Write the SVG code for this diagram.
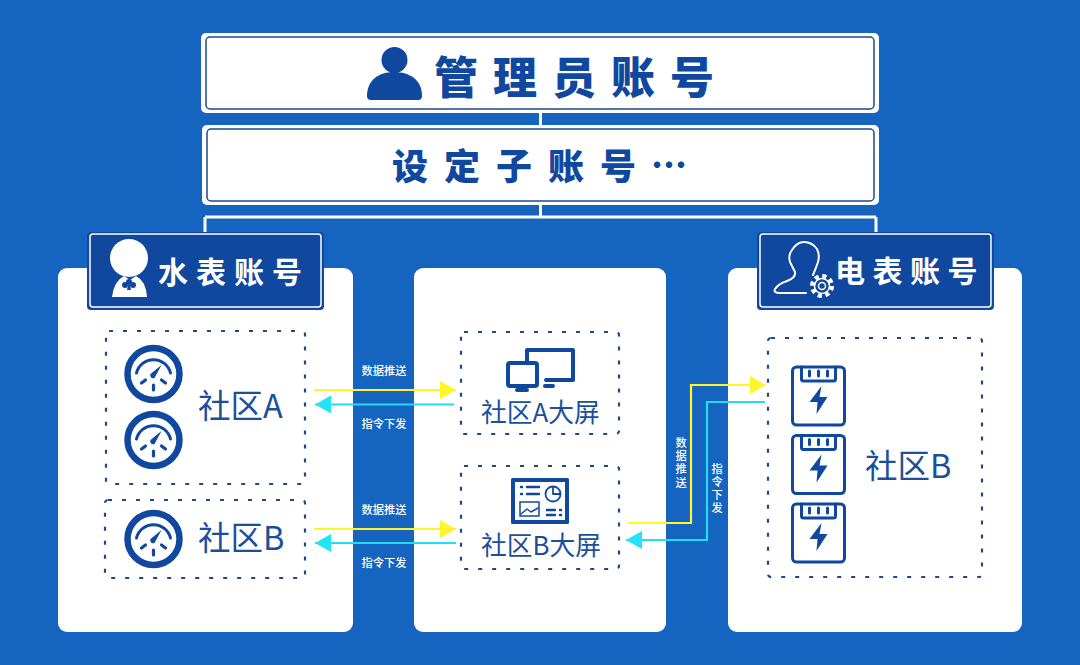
<svg xmlns="http://www.w3.org/2000/svg" xmlns:xlink="http://www.w3.org/1999/xlink" width="1080" height="665" viewBox="0 0 1080 665">
<style>
text{font-family:"Noto Sans CJK SC","Noto Sans",sans-serif}
.t1{font-size:44px;font-weight:900;fill:#1048a0;letter-spacing:15px}
.t2{font-size:36px;font-weight:900;fill:#1048a0;letter-spacing:16px}
.t3{font-size:30px;font-weight:700;fill:#fff;letter-spacing:8px}
.l{font-size:32.500px;fill:#1b4f9c}
.s{font-size:25.800px;fill:#1b4f9c}
.c{font-size:11.200px;font-weight:500;fill:#fff;text-anchor:middle}
.panel{fill:#fff}
.dash{fill:none;stroke:#1b4a8c;stroke-width:2.200;stroke-dasharray:4 10}
.ico{fill:#1048a0}
.icol{fill:none;stroke:#1048a0;stroke-linecap:round;stroke-linejoin:round}
.y{fill:none;stroke:#fff52a;stroke-width:2.200}
.b{fill:none;stroke:#25dcf7;stroke-width:2.200}
.wl{fill:none;stroke:#fff;stroke-width:3}
</style>
<defs>
<marker id="ya" markerUnits="userSpaceOnUse" markerWidth="18" markerHeight="20" refX="16" refY="9" orient="auto"><path d="M0 0L16 9L0 18Z" fill="#fff52a"/></marker>
<marker id="ba" markerUnits="userSpaceOnUse" markerWidth="18" markerHeight="20" refX="16" refY="9" orient="auto"><path d="M0 0L16 9L0 18Z" fill="#22e4f5"/></marker>
<g id="gauge">
<circle cx="0" cy="0" r="26" fill="none" stroke="#1048a0" stroke-width="6.500"/>
<path class="icol" stroke-width="3" d="M-17 -1A17.500 17.500 0 0 1 17 -1"/>
<path class="ico" d="M8 -9L1 4A3 3 0 0 1 -3 0Z"/>
<path class="icol" stroke-width="3.200" d="M-12 9L-8 6M12 9L8 6M0 16V11"/>
</g>
<g id="meter">
<rect x="-26" y="-29" width="52" height="58" rx="4" fill="#fff" stroke="#1048a0" stroke-width="3"/>
<path class="icol" stroke-width="3" d="M-17 -29V-17Q-17 -15 -15 -15H15Q17 -15 17 -17V-29"/>
<path class="icol" stroke-width="3" d="M-9 -25V-20M0 -25V-20M9 -25V-20"/>
<path class="ico" d="M3 -10L-9 6H-1L-2 18L9 1H1Z"/>
</g>
</defs>
<rect width="1080" height="665" fill="#1565c0"/>
<g id="connectors-tree">
<path class="wl" d="M540.500 112V125M540.500 204V217M205 217H876M205 217V234M876 217V234"/>
</g>
<g id="panels">
<rect class="panel" x="58" y="268" width="295" height="364" rx="9"/>
<rect class="panel" x="414" y="268" width="252" height="364" rx="9"/>
<rect class="panel" x="728" y="268" width="294" height="364" rx="9"/>
</g>
<g id="admin">
<rect x="201" y="33" width="678" height="80" rx="5" fill="#fff"/>
<rect x="206" y="37" width="668" height="72" rx="4" fill="#fff" stroke="#1b4a8c" stroke-width="1.500"/>
<circle cx="394.500" cy="60" r="13" class="ico"/>
<path class="ico" d="M367 96C367 80 379 72 394 72C410 72 422 80 422 96Q422 100 418 100H371Q367 100 367 96Z"/>
<text class="t1" x="434" y="94">管理员账号</text>
</g>
<g id="sub">
<rect x="202" y="125" width="677" height="80" rx="5" fill="#fff"/>
<rect x="207" y="129" width="667" height="72" rx="4" fill="#fff" stroke="#1b4a8c" stroke-width="1.500"/>
<text class="t2" x="392" y="180">设定子账号</text>
<text x="651" y="179" font-size="36" font-weight="900" fill="#1048a0" font-family="Noto Sans CJK SC,sans-serif">…</text>
</g>
<g id="water">
<rect x="87" y="232" width="237" height="78" rx="4" fill="#1048a0"/>
<rect x="90" y="234" width="231" height="73" rx="3" fill="#1048a0" stroke="#fff" stroke-width="1.500"/>
<circle cx="129" cy="258" r="19" fill="#fff"/>
<path fill="#fff" d="M112 297Q114 281 124 276L130 280L136 276Q146 281 147 297Z"/>
<circle cx="129" cy="282" r="3" class="ico"/><circle cx="125" cy="285" r="3" class="ico"/><circle cx="133" cy="285" r="3" class="ico"/><path class="ico" d="M128 285H130L131 290H127Z"/>
<text class="t3" x="158" y="283">水表账号</text>
</g>
<g id="power">
<rect x="757" y="232" width="237" height="78" rx="4" fill="#1048a0"/>
<rect x="760" y="234" width="231" height="73" rx="3" fill="#1048a0" stroke="#fff" stroke-width="1.500"/>
<path fill="none" stroke="#fff" stroke-width="2" stroke-linecap="round" stroke-linejoin="round" d="M806 293H780Q773 293 775 289Q778 284 787 281Q796 278 795 272Q792 266 790 262Q788 255 792 250Q797 242 804 242Q812 242 817 249Q820 255 818 262Q816 268 813 275"/>
<circle cx="822" cy="286" r="9.500" fill="none" stroke="#fff" stroke-width="5" stroke-dasharray="4 3.460"/>
<circle cx="822" cy="286" r="7.500" fill="none" stroke="#fff" stroke-width="1.500"/>
<circle cx="822" cy="286" r="3.500" fill="none" stroke="#fff" stroke-width="1.500"/>
<text class="t3" x="835" y="282" style="letter-spacing:7.500px">电表账号</text>
</g>
<g id="communityA">
<rect class="dash" x="106" y="331" width="199" height="153" rx="3"/>
<use xlink:href="#gauge" href="#gauge" x="153.500" y="374"/>
<use xlink:href="#gauge" href="#gauge" x="153.500" y="440"/>
<text class="l" x="198" y="418">社区A</text>
</g>
<g id="communityB">
<rect class="dash" x="105" y="500" width="200" height="78" rx="3"/>
<use xlink:href="#gauge" href="#gauge" x="153.500" y="539"/>
<text class="l" x="198" y="550">社区B</text>
</g>
<g id="screenA">
<rect class="dash" x="461" y="332" width="158" height="102" rx="3"/>
<path class="icol" stroke-width="4" d="M527 368V350H573V380H546"/>
<rect x="508" y="363" width="29" height="23" rx="2" fill="#fff" stroke="#1048a0" stroke-width="4"/>
<path class="icol" stroke-width="4" d="M517 390H527M545 386H553"/>
<text class="s" x="481" y="422">社区A大屏</text>
</g>
<g id="screenB">
<rect class="dash" x="461" y="466" width="158" height="103" rx="3"/>
<rect x="511" y="478" width="58" height="46" rx="1.500" class="ico"/>
<rect x="515" y="482" width="50" height="38" fill="#fff"/>
<path class="icol" stroke-width="2.500" d="M521 487H522M527 487H539M521 494H522M527 494H539M547 510H555M547 515H555M560 510H561M560 515H561"/>
<circle cx="553" cy="494" r="7.500" fill="none" stroke="#1048a0" stroke-width="1.800"/>
<path class="icol" stroke-width="1.800" d="M553 487V494H560"/>
<rect x="520" y="502" width="19" height="14" fill="none" stroke="#1048a0" stroke-width="1.500"/>
<path class="icol" stroke-width="1.500" d="M521 514L527 509L531 512L538 508"/>
<text class="s" x="481" y="555">社区B大屏</text>
</g>
<g id="communityB2">
<rect class="dash" x="768" y="338" width="214" height="239" rx="3"/>
<use xlink:href="#meter" href="#meter" x="818.500" y="396"/>
<use xlink:href="#meter" href="#meter" x="818.500" y="464.500"/>
<use xlink:href="#meter" href="#meter" x="818.500" y="533"/>
<text class="l" x="865" y="478">社区B</text>
</g>
<g id="connectors">
<path class="y" marker-end="url(#ya)" d="M314 390H456"/>
<path class="b" marker-end="url(#ba)" d="M454 404.500H315"/>
<path class="y" marker-end="url(#ya)" d="M628 523H691V385H766"/>
<path class="y" marker-end="url(#ya)" d="M314 529H456"/>
<path class="b" marker-end="url(#ba)" d="M456 543H315"/>
<path class="b" marker-end="url(#ba)" d="M765 402H707V540H626"/>
</g>
<g id="labels">
<text class="c" x="384" y="375">数据推送</text>
<text class="c" x="384" y="428">指令下发</text>
<text class="c" x="384" y="514">数据推送</text>
<text class="c" x="384" y="567">指令下发</text>
<text class="c" x="681" y="447">数</text><text class="c" x="681" y="460">据</text><text class="c" x="681" y="473">推</text><text class="c" x="681" y="487">送</text>
<text class="c" x="717" y="473">指</text><text class="c" x="717" y="486">令</text><text class="c" x="717" y="499">下</text><text class="c" x="717" y="512">发</text>
</g>
</svg>
